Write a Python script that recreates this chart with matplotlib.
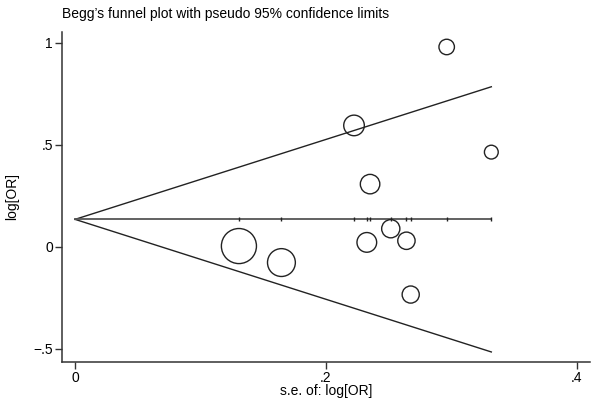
import numpy as np
import matplotlib
matplotlib.use("Agg")
import matplotlib.pyplot as plt

plt.rcParams['font.family'] = ['Liberation Sans', 'DejaVu Sans']

# study data: standard error and log odds ratio
se = [0.1307, 0.1646, 0.2225, 0.2327, 0.2353, 0.2518, 0.2643, 0.2677, 0.2964, 0.3320]
log_or = [0.003, -0.078, 0.595, 0.021, 0.307, 0.088, 0.029, -0.235, 0.980, 0.464]
pooled = 0.134

xticks = [0, 0.2, 0.4]
xtick_labels = ["0", ".2", ".4"]
yticks = [-0.5, 0, 0.5, 1]
ytick_labels = ["\u2212.5", "0", ".5", "1"]

se = np.array(se)
log_or = np.array(log_or)

fig = plt.figure(figsize=(5.95, 3.99), dpi=100)
ax = fig.add_axes([62/595, 37/399, (590-62)/595, (362-32)/399])

col = '#222222'
se_line = np.concatenate([[0], np.sort(se)])
ax.plot(se_line, pooled + 1.96*se_line, color=col, lw=1.0)
ax.plot(se_line, pooled - 1.96*se_line, color=col, lw=1.0)
ax.plot(se_line, np.full_like(se_line, pooled), color='#555555', lw=1.3)
ax.plot(se, np.full_like(se, pooled), linestyle='none', marker='|',
        markersize=2.2, color='#222222', mew=1.0)

sizes = (3.3/se)**2
ax.scatter(se, log_or, s=sizes, facecolors='none', edgecolors=col, linewidths=1.0, zorder=3)

ax.set_xlim(-0.0104, 0.4107)
ax.set_ylim(-0.566, 1.0535)
ax.set_xticks(xticks)
ax.set_xticklabels(xtick_labels)
ax.set_yticks(yticks)
ax.set_yticklabels(ytick_labels)
for s in ['top', 'right']:
    ax.spines[s].set_visible(False)
for s in ['left', 'bottom']:
    ax.spines[s].set_color('#333333')
    ax.spines[s].set_linewidth(1.1)
ax.tick_params(direction='out', length=5.0, width=1.0, color='#333333',
               labelsize=10, pad=1.5)
ax.set_xlabel("s.e. of: log[OR]", fontsize=10, labelpad=-1)
ax.set_ylabel("log[OR]", fontsize=10, labelpad=10)

fig.text(62/595, 1 - 14/399, "Begg\u2019s funnel plot with pseudo 95% confidence limits",
         fontsize=10, ha='left', va='center')

fig.savefig("out.png", dpi=100)
